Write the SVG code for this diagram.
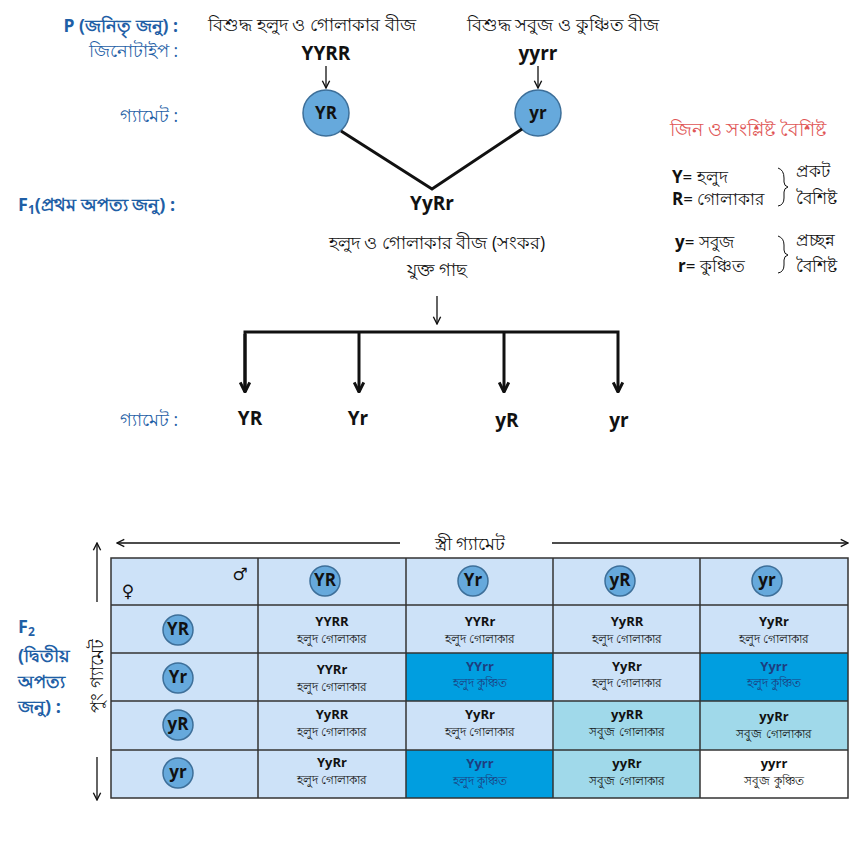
<svg xmlns="http://www.w3.org/2000/svg" width="866" height="854" viewBox="0 0 866 854">
<defs>
<style>
text{font-family:"Open Sans","Noto Sans","DejaVu Sans",sans-serif;fill:#111}
.lbl{fill:#1f5fa6;font-size:17.5px;text-anchor:end}
.lblb{fill:#1f5fa6;font-size:18px;font-weight:bold}
.bn{font-size:17.5px;text-anchor:middle}
.gen{font-size:19px;font-weight:bold;text-anchor:middle}
.ct{font-size:17px;font-weight:bold;text-anchor:middle}
.gc{fill:#66a9dc;stroke:#3d6f99;stroke-width:1.5}
.gt{font-size:13px;font-weight:bold;text-anchor:middle}
.pt{font-size:12px;text-anchor:middle}
.lt{fill:#cde2f8}.dk{fill:#009ee0}.cy{fill:#a0d9ea}.wh{fill:#ffffff}
.ln{stroke:#111;fill:none}
.leg{font-size:17px}
</style>
<marker id="ah" viewBox="0 0 10 10" refX="9" refY="5" markerWidth="7" markerHeight="7" orient="auto"><path d="M1,1 L9,5 L1,9" fill="none" stroke="#111" stroke-width="1.5"/></marker>
<marker id="ahb" viewBox="0 0 10 10" refX="9" refY="5" markerWidth="4" markerHeight="4" orient="auto"><path d="M1,1 L9,5 L1,9" fill="none" stroke="#111" stroke-width="2.5"/></marker>
</defs>
<rect width="866" height="854" fill="#fff"/>

<g id="labels">
<text x="178" y="32" class="lbl" font-weight="bold">P (জনিতৃ জনু) :</text>
<text x="178" y="57" class="lbl">জিনোটাইপ :</text>
<text x="178" y="122" class="lbl">গ্যামেট :</text>
<text x="18" y="211" class="lblb">F<tspan font-size="12" dy="3">1</tspan><tspan dy="-3">(প্রথম অপত্য জনু) :</tspan></text>
<text x="178" y="426" class="lbl">গ্যামেট :</text>
<text x="18" y="633" class="lblb">F<tspan font-size="12" dy="3">2</tspan></text>
<text x="18" y="662" class="lblb">(দ্বিতীয়</text>
<text x="18" y="688" class="lblb">অপত্য</text>
<text x="18" y="713" class="lblb">জনু) :</text>
</g>

<g id="parent1">
<text x="312" y="31" class="bn" font-size="18">বিশুদ্ধ হলুদ ও গোলাকার বীজ</text>
<text x="326" y="60" class="gen">YYRR</text>
</g>
<g id="parent2">
<text x="563" y="31" class="bn" font-size="18">বিশুদ্ধ সবুজ ও কুঞ্চিত বীজ</text>
<text x="538" y="60" class="gen">yyrr</text>
</g>
<g id="gameteYR">
<circle cx="326" cy="113" r="23" class="gc"/>
<text x="326" y="119" class="ct">YR</text>
</g>
<g id="gameteyr">
<circle cx="538" cy="113" r="23" class="gc"/>
<text x="538" y="119" class="ct">yr</text>
</g>
<g id="f1">
<text x="432" y="210" class="gen">YyRr</text>
<text x="437" y="249" class="bn">হলুদ ও গোলাকার বীজ (সংকর)</text>
<text x="437" y="276" class="bn">যুক্ত গাছ</text>
</g>
<g id="f1gametes">
<text x="250" y="425" class="gen">YR</text>
<text x="358" y="425" class="gen">Yr</text>
<text x="507" y="427" class="gen">yR</text>
<text x="619" y="427" class="gen">yr</text>
</g>

<g id="legend">
<text x="748" y="136" font-size="19" text-anchor="middle" style="fill:#e05656">জিন ও সংশ্লিষ্ট বৈশিষ্ট</text>
<text x="672" y="183" class="leg"><tspan font-weight="bold">Y</tspan>= হলুদ</text>
<text x="672" y="205" class="leg"><tspan font-weight="bold">R</tspan>= গোলাকার</text>
<text x="675" y="248" class="leg"><tspan font-weight="bold">y</tspan>= সবুজ</text>
<text x="678" y="272" class="leg"><tspan font-weight="bold">r</tspan>= কুঞ্চিত</text>
<path d="M778,168 Q784,170 784,178 L784,182 Q784,186 788,187 Q784,188 784,192 L784,198 Q784,205 778,206" class="ln" stroke-width="1"/>
<path d="M778,236 Q784,238 784,245 L784,250 Q784,254 788,255 Q784,256 784,260 L784,265 Q784,272 778,273" class="ln" stroke-width="1"/>
<text x="796" y="177" class="leg">প্রকট</text>
<text x="796" y="204" class="leg">বৈশিষ্ট</text>
<text x="796" y="246" class="leg">প্রচ্ছন্ন</text>
<text x="796" y="272" class="leg">বৈশিষ্ট</text>
</g>

<g id="connectors">
<line x1="326" y1="66" x2="326" y2="88" class="ln" stroke-width="1.3" marker-end="url(#ah)"/>
<line x1="538" y1="66" x2="538" y2="88" class="ln" stroke-width="1.3" marker-end="url(#ah)"/>
<polyline points="341,131 432,189 522,129" class="ln" stroke-width="3"/>
<line x1="437" y1="296" x2="437" y2="324" class="ln" stroke-width="1.3" marker-end="url(#ah)"/>
<polyline points="245,392 245,332 618,332 618,392" class="ln" stroke-width="3" marker-end="url(#ahb)"/>
<line x1="245" y1="334" x2="245" y2="392" class="ln" stroke-width="3" marker-end="url(#ahb)"/>
<line x1="359" y1="332" x2="359" y2="392" class="ln" stroke-width="3" marker-end="url(#ahb)"/>
<line x1="504" y1="332" x2="504" y2="392" class="ln" stroke-width="3" marker-end="url(#ahb)"/>
<line x1="400" y1="543" x2="117" y2="543" class="ln" stroke-width="1.3" marker-end="url(#ah)"/>
<line x1="552" y1="543" x2="848" y2="543" class="ln" stroke-width="1.3" marker-end="url(#ah)"/>
<line x1="97" y1="602" x2="97" y2="543" class="ln" stroke-width="1.3" marker-end="url(#ah)"/>
<line x1="97" y1="757" x2="97" y2="800" class="ln" stroke-width="1.3" marker-end="url(#ah)"/>
</g>

<g id="axisLabels">
<text x="470" y="550" class="bn">স্ত্রী গ্যামেট</text>
<text transform="translate(103,676) rotate(-90)" class="bn" font-size="16">পুং গ্যামেট</text>
</g>

<g id="table">
<rect x="111" y="558" width="737" height="240" class="lt"/>
<rect x="406" y="653" width="147" height="48" class="dk"/>
<rect x="700" y="653" width="148" height="48" class="dk"/>
<rect x="406" y="750" width="147" height="48" class="dk"/>
<rect x="553" y="701" width="147" height="49" class="cy"/>
<rect x="700" y="701" width="148" height="49" class="cy"/>
<rect x="553" y="750" width="147" height="48" class="cy"/>
<rect x="700" y="750" width="148" height="48" class="wh"/>
<g stroke="#333" stroke-width="1.5" fill="none">
<rect x="111" y="558" width="737" height="240"/>
<line x1="258" y1="558" x2="258" y2="798"/>
<line x1="406" y1="558" x2="406" y2="798"/>
<line x1="553" y1="558" x2="553" y2="798"/>
<line x1="700" y1="558" x2="700" y2="798"/>
<line x1="111" y1="605" x2="848" y2="605"/>
<line x1="111" y1="653" x2="848" y2="653"/>
<line x1="111" y1="701" x2="848" y2="701"/>
<line x1="111" y1="750" x2="848" y2="750"/>
</g>
<text x="128" y="597" font-size="17" text-anchor="middle">♀</text>
<text x="240" y="580" font-size="17" text-anchor="middle">♂</text>
</g>

<g id="hdrYR"><circle cx="325" cy="581" r="15" class="gc"/><text x="325" y="586" class="ct" font-size="14">YR</text></g>
<g id="hdrYr"><circle cx="473" cy="581" r="15" class="gc"/><text x="473" y="586" class="ct" font-size="14">Yr</text></g>
<g id="hdryR"><circle cx="620" cy="581" r="15" class="gc"/><text x="620" y="586" class="ct" font-size="14">yR</text></g>
<g id="hdryr"><circle cx="767" cy="581" r="15" class="gc"/><text x="767" y="586" class="ct" font-size="14">yr</text></g>
<g id="rowYR"><circle cx="178" cy="630" r="15" class="gc"/><text x="178" y="635" class="ct" font-size="14">YR</text></g>
<g id="rowYr"><circle cx="178" cy="678" r="15" class="gc"/><text x="178" y="683" class="ct" font-size="14">Yr</text></g>
<g id="rowyR"><circle cx="178" cy="725" r="15" class="gc"/><text x="178" y="730" class="ct" font-size="14">yR</text></g>
<g id="rowyr"><circle cx="178" cy="773" r="15" class="gc"/><text x="178" y="778" class="ct" font-size="14">yr</text></g>

<g id="cells">
<text x="332" y="626" class="gt">YYRR</text><text x="332" y="643" class="pt">হলুদ গোলাকার</text>
<text x="480" y="626" class="gt">YYRr</text><text x="480" y="643" class="pt">হলুদ গোলাকার</text>
<text x="627" y="626" class="gt">YyRR</text><text x="627" y="643" class="pt">হলুদ গোলাকার</text>
<text x="774" y="626" class="gt">YyRr</text><text x="774" y="643" class="pt">হলুদ গোলাকার</text>

<text x="332" y="674" class="gt">YYRr</text><text x="332" y="691" class="pt">হলুদ গোলাকার</text>
<text x="480" y="671" class="gt" style="fill:#1d3f80">YYrr</text><text x="480" y="687" class="pt" style="fill:#1d3f80">হলুদ কুঞ্চিত</text>
<text x="627" y="671" class="gt">YyRr</text><text x="627" y="687" class="pt">হলুদ গোলাকার</text>
<text x="774" y="671" class="gt" style="fill:#1d3f80">Yyrr</text><text x="774" y="687" class="pt" style="fill:#1d3f80">হলুদ কুঞ্চিত</text>

<text x="332" y="719" class="gt">YyRR</text><text x="332" y="736" class="pt">হলুদ গোলাকার</text>
<text x="480" y="719" class="gt">YyRr</text><text x="480" y="736" class="pt">হলুদ গোলাকার</text>
<text x="627" y="719" class="gt">yyRR</text><text x="627" y="736" class="pt">সবুজ গোলাকার</text>
<text x="774" y="721" class="gt">yyRr</text><text x="774" y="738" class="pt">সবুজ গোলাকার</text>

<text x="332" y="767" class="gt">YyRr</text><text x="332" y="784" class="pt">হলুদ গোলাকার</text>
<text x="480" y="768" class="gt" style="fill:#1d3f80">Yyrr</text><text x="480" y="785" class="pt" style="fill:#1d3f80">হলুদ কুঞ্চিত</text>
<text x="627" y="768" class="gt">yyRr</text><text x="627" y="785" class="pt">সবুজ গোলাকার</text>
<text x="774" y="768" class="gt">yyrr</text><text x="774" y="785" class="pt">সবুজ কুঞ্চিত</text>
</g>
</svg>
